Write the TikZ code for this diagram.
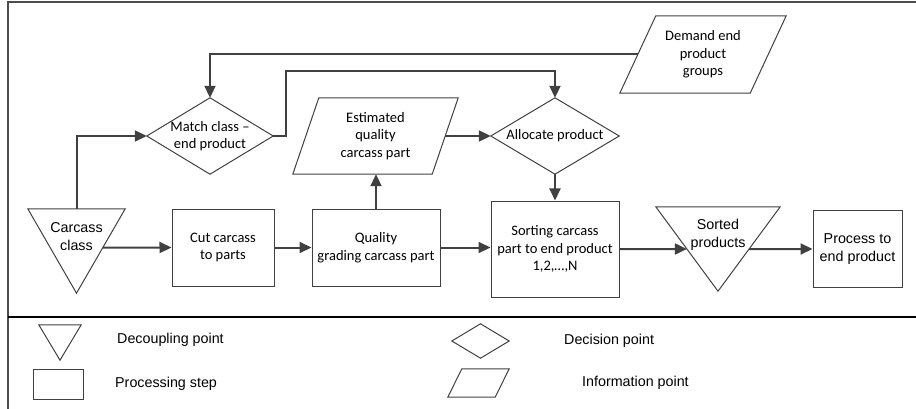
\documentclass[tikz,border=0pt]{standalone}
\usepackage{fontspec}
\setmainfont{Liberation Sans}
\newfontfamily\calibfont{Carlito}
\usetikzlibrary{arrows.meta,calc}

\definecolor{linegray}{HTML}{404040}

\tikzset{
  shapeline/.style={draw=linegray, line width=1pt},
  flow/.style={draw=linegray, line width=2pt, -{Triangle[length=12pt,width=11pt]}},
  calibtext/.style={font=\calibfont\fontsize{14.5}{17.5}\selectfont, align=center, inner sep=0pt},
  arialtext/.style={font=\fontsize{14.3}{18}\selectfont, align=center, inner sep=0pt},
  procbox/.style={calibtext, shapeline, inner sep=0pt, minimum height=77pt},
  shapebox/.style 2 args={inner sep=0pt, minimum width=#1, minimum height=#2},
}

% outlines drawn round the (invisible) bounding nodes
\newcommand{\decoutline}[1]{\draw[shapeline] (#1.north west) -- (#1.north east) -- (#1.south) -- cycle;}
\newcommand{\decisionoutline}[1]{\draw[shapeline] (#1.west) -- (#1.north) -- (#1.east) -- (#1.south) -- cycle;}
\newcommand{\infooutline}[2]{\draw[shapeline] ([xshift=#2]#1.north west) -- (#1.north east) -- ([xshift=-#2]#1.south east) -- (#1.south west) -- cycle;}

\begin{document}
\begin{tikzpicture}[x=1pt, y=-1pt]
\useasboundingbox (0,0) rectangle (916,409);

% frame
\draw[line width=1.5pt, draw=black!70] (8,409) -- (8,2) -- (916,2);
\draw[line width=1.5pt] (8,317) -- (916,317);

% process row
\node[shapebox={97pt}{84pt}] (cc) at (76.5,251) {};
\node[arialtext] (cclabel) at ([yshift=14pt]cc.center) {Carcass\\class};
\node[procbox, minimum width=102pt] (cut) at (223,247.5) {Cut carcass\\to parts};
\node[procbox, minimum width=128pt] (qual) at (376,247.5) {Quality\\grading carcass part};
\node[procbox, minimum width=128pt, minimum height=96pt] (sort) at (555,249) {Sorting carcass\\part to end product\\1,2,…,N};
\node[shapebox={124pt}{84pt}] (sp) at (718,249) {};
\node[arialtext] (splabel) at ([yshift=14.5pt]sp.center) {Sorted\\products};
\node[procbox, arialtext, minimum width=89pt] (proc) at (857.5,249) {Process to\\end product};

% decision and information row
\node[shapebox={126pt}{76pt}, calibtext] (match) at (210,136) {Match class –\\end product};
\node[shapebox={165pt}{76pt}, calibtext] (est) at (375.5,136) {Estimated\\quality\\carcass part};
\node[shapebox={128pt}{76pt}, calibtext] (alloc) at (555,136) {Allocate product};
\node[shapebox={166pt}{77pt}, calibtext] (dem) at (703,54.5) {Demand end\\product\\groups};

\decoutline{cc}
\decoutline{sp}
\decisionoutline{match}
\decisionoutline{alloc}
\infooutline{est}{26pt}
\infooutline{dem}{36pt}

% connectors
\draw[flow] ([xshift=18pt]dem.west) -| (match.north);
\draw[flow] (match.east) -- ++(13,0) -- ++(0,-65) -| (alloc.north);
\draw[flow] ([xshift=-13pt]est.east) -- (alloc.west);
\draw[flow] (qual.north) -- (qual.north |- est.south);
\draw[flow] (cc.north) |- (match.west);
\draw[flow] ($(cc.north east)!0.46!(cc.south)$) -- (cut.west);
\draw[flow] (cut) -- (qual);
\draw[flow] (qual.east) -- (qual.east -| sort.west);
\draw[flow] (alloc.south) -- (sort.north);
\draw[flow] (sort.east) -- ($(sp.north west)!0.5!(sp.south)$);
\draw[flow] ($(sp.north east)!0.5!(sp.south)$) -- (proc.west);

% legend
\node[shapebox={42pt}{35pt}] (lgdec) at (60,342.5) {};
\node[shapeline, inner sep=0pt, minimum width=50pt, minimum height=30pt] (lgproc) at (58,384) {};
\node[shapebox={57pt}{34pt}] (lgdecision) at (480.5,341) {};
\node[shapebox={61pt}{28pt}] (lginfo) at (478.5,383) {};
\decoutline{lgdec}
\decisionoutline{lgdecision}
\infooutline{lginfo}{14pt}

\node[arialtext, anchor=west] (lgdectext) at (117,340) {Decoupling point};
\node[arialtext, anchor=west] (lgproctext) at (115,384) {Processing step};
\node[arialtext, anchor=west] (lgdecisiontext) at (564,341) {Decision point};
\node[arialtext, anchor=west] (lginfotext) at (582,383) {Information point};
\end{tikzpicture}
\end{document}
